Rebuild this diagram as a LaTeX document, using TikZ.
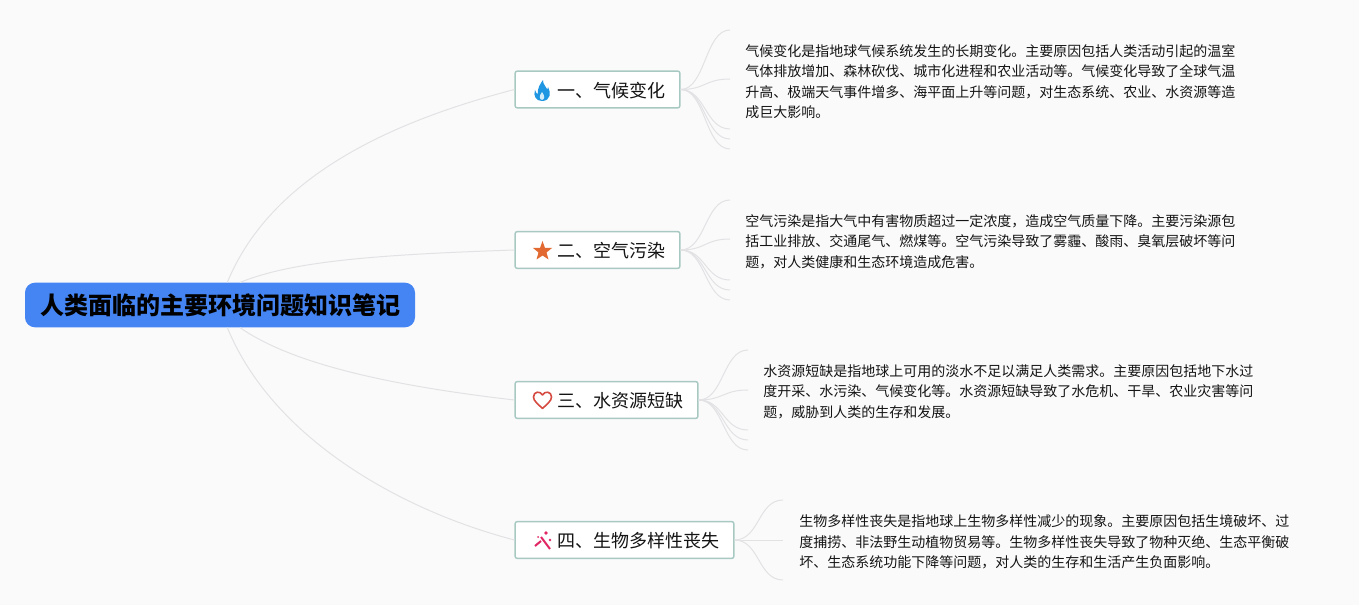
\documentclass[tikz,border=0pt]{standalone}
\usepackage{fontspec}
\setmainfont{Noto Sans CJK SC}
\definecolor{bgc}{HTML}{FAFAFB}
\definecolor{rootc}{HTML}{4585F3}
\definecolor{boxc}{HTML}{A8C9C1}
\definecolor{linkc}{HTML}{E2E2E4}
\definecolor{inkc}{HTML}{141414}
\tikzset{
  x=0.75pt,y=-0.75pt,
  rootbox/.style={fill=rootc,draw=none,rounded corners=7.5pt,minimum width=292.5pt,minimum height=33.5pt,inner sep=0pt,font=\fontsize{18pt}{22pt}\selectfont\bfseries,text=black},
  topicbox/.style={fill=white,draw=boxc,line width=1.1pt,rounded corners=1.5pt,minimum height=27.5pt,inner sep=0pt},
  topictext/.style={anchor=west,inner sep=0pt,font=\fontsize{13.5pt}{16pt}\selectfont,text=inkc},
  bodytext/.style={anchor=north west,inner sep=0pt,align=left,font=\fontsize{10.5pt}{15.4pt}\selectfont,text=inkc},
  link/.style={draw=linkc,line width=0.75pt},
}
\begin{document}
\begin{tikzpicture}
\useasboundingbox (0,0) rectangle (1359,605);
\fill[bgc] (0,0) rectangle (1359,605);
\coordinate (e11) at (730,30);\coordinate (e12) at (730,79);\coordinate (e13) at (730,129);\coordinate (e14) at (730,139);\coordinate (e15) at (730,149);
\coordinate (e21) at (730,200);\coordinate (e22) at (730,239);\coordinate (e23) at (730,280);\coordinate (e24) at (730,290);\coordinate (e25) at (730,300);
\coordinate (e31) at (748,350);\coordinate (e32) at (748,390);\coordinate (e33) at (748,430);\coordinate (e34) at (748,440);\coordinate (e35) at (748,450);
\coordinate (e41) at (783,500);\coordinate (e42) at (783,540);\coordinate (e43) at (783,580);
% boxes
\node[rootbox] (root) at (220,305) {\raisebox{-1pt}{人类面临的主要环境问题知识笔记}};
\node[topicbox,minimum width=123.5pt] (t1) at (597.5,89.5) {};
\node[topicbox,minimum width=123.5pt] (t2) at (597.5,250) {};
\node[topicbox,minimum width=137pt] (t3) at (606.5,400) {};
\node[topicbox,minimum width=164pt] (t4) at (624.5,540) {};
% root links
\draw[link] ([xshift=5.5pt]root.north) .. controls +(45,-110) and +(-115,30) .. (t1.west);
\draw[link] ([xshift=15pt]root.north) .. controls +(50,-20) and +(-150,5) .. (t2.west);
\draw[link] ([xshift=15pt]root.south) .. controls +(50,35) and +(-130,-15) .. (t3.west);
\draw[link] ([xshift=5.5pt]root.south) .. controls +(45,110) and +(-115,-30) .. (t4.west);
% leaf links
\foreach \t in {1,2,3}{
  \foreach \e in {1,2,3,4,5}{
    \draw[link] (t\t.east) .. controls +(25,0) and +(-25,0) .. (e\t\e);
  }
}
\foreach \e in {1,2,3}{
  \draw[link] (t4.east) .. controls +(25,0) and +(-25,0) .. (e4\e);
}
% topic text
\node[topictext] (l1) at (557,91) {一、气候变化};
\node[topictext] (l2) at (557,251) {二、空气污染};
\node[topictext] (l3) at (557,401) {三、水资源短缺};
\node[topictext] (l4) at (557,541) {四、生物多样性丧失};
% icons
\fill[color={rgb,255:red,30;green,150;blue,225}] (542,101) .. controls (536,101) and (533,96) .. (535,90) .. controls (536,93) and (537,94) .. (538,94) .. controls (537,89) and (540,84) .. (543,80) .. controls (543,85) and (546,86) .. (547,89) .. controls (547,90) and (548,89) .. (548,87) .. controls (551,92) and (551,101) .. (542,101) -- cycle;
\fill[color={rgb,255:red,210;green,235;blue,250}] (542,100) .. controls (539,99) and (539,96) .. (542,92) .. controls (545,96) and (545,99) .. (542,100) -- cycle;
\fill[color={rgb,255:red,226;green,106;blue,50}] (542.5,241) -- (545,248) -- (552,248) -- (546.5,252.5) -- (548.5,259.5) -- (542.5,255.5) -- (536.5,259.5) -- (538.5,252.5) -- (533,248) -- (540,248) -- cycle;
\draw[color={rgb,255:red,214;green,75;blue,65},line width=1.2pt,line join=round] (542.5,408.5) .. controls (538,404) and (533.5,401) .. (533.5,397) .. controls (533.5,391.5) and (540,390.5) .. (542.5,395) .. controls (545,390.5) and (551.5,391.5) .. (551.5,397) .. controls (551.5,401) and (547,404) .. (542.5,408.5) -- cycle;
\draw[color={rgb,255:red,226;green,40;blue,100},line width=1.5pt] (541,537) -- (550,549);
\draw[color={rgb,255:red,226;green,40;blue,100},line width=1.5pt] (535,546) -- (541,541);
\fill[color={rgb,255:red,226;green,40;blue,100}] (546,533) circle (1.8) (550,540) circle (1.3) (538,537) circle (1);
% body
\node[bodytext] (b1) at (745,44) {气候变化是指地球气候系统发生的长期变化。主要原因包括人类活动引起的温室\\气体排放增加、森林砍伐、城市化进程和农业活动等。气候变化导致了全球气温\\升高、极端天气事件增多、海平面上升等问题，对生态系统、农业、水资源等造\\成巨大影响。};
\node[bodytext] (b2) at (745,214) {空气污染是指大气中有害物质超过一定浓度，造成空气质量下降。主要污染源包\\括工业排放、交通尾气、燃煤等。空气污染导致了雾霾、酸雨、臭氧层破坏等问\\题，对人类健康和生态环境造成危害。};
\node[bodytext] (b3) at (763,364) {水资源短缺是指地球上可用的淡水不足以满足人类需求。主要原因包括地下水过\\度开采、水污染、气候变化等。水资源短缺导致了水危机、干旱、农业灾害等问\\题，威胁到人类的生存和发展。};
\node[bodytext] (b4) at (799,514.5) {生物多样性丧失是指地球上生物多样性减少的现象。主要原因包括生境破坏、过\\度捕捞、非法野生动植物贸易等。生物多样性丧失导致了物种灭绝、生态平衡破\\坏、生态系统功能下降等问题，对人类的生存和生活产生负面影响。};
\end{tikzpicture}
\end{document}
